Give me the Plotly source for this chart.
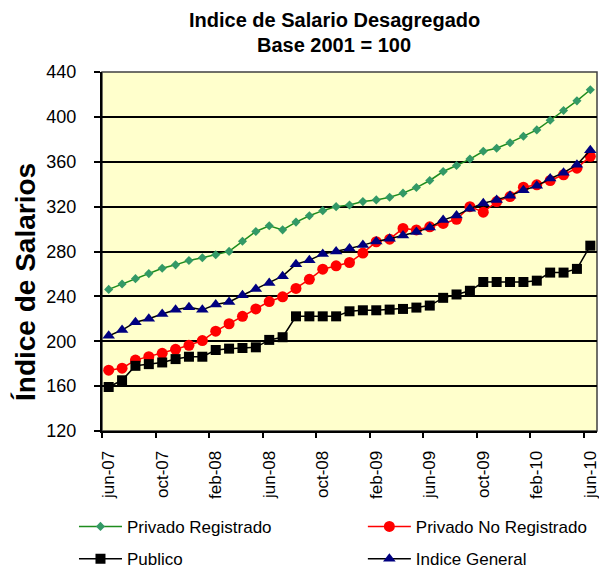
import plotly.graph_objects as go

months = ["jun-07","jul-07","ago-07","sep-07","oct-07","nov-07","dic-07","ene-08","feb-08","mar-08",
          "abr-08","may-08","jun-08","jul-08","ago-08","sep-08","oct-08","nov-08","dic-08","ene-09",
          "feb-09","mar-09","abr-09","may-09","jun-09","jul-09","ago-09","sep-09","oct-09","nov-09",
          "dic-09","ene-10","feb-10","mar-10","abr-10","may-10","jun-10"]
tick_labels = ["jun-07","oct-07","feb-08","jun-08","oct-08","feb-09","jun-09","oct-09","feb-10","jun-10"]

privado_registrado = [246.2,251,255.8,260.3,265.1,268.1,272,274.4,277.1,280.1,
                      289.1,297.8,302.9,299.3,306.2,311.9,316.4,320,321.5,324.5,
                      326,328.4,332,337,343.3,351.3,356.7,362.4,369.3,372,
                      377,382.7,388.4,397,405.7,414.3,424.2]
privado_no_registrado = [174.2,176,183.2,186.2,189.2,192.8,196.4,200.6,209,215.6,
                         222.2,228.8,235.4,239.6,247.1,255.2,264.2,267.2,270.2,278.6,
                         288.7,291,300.6,299.2,302,305,308.7,320,315,324.5,
                         329,337.3,339.4,343.3,348.4,354.3,364.8]
publico = [159.2,165.2,178.1,179.6,181.1,184.1,186.2,186.2,192.2,193.4,
           194,194.6,201.2,203.6,222.2,222.2,222.2,222.2,226.7,227.6,
           227.6,228.2,228.8,230,231.8,238.7,241.7,245,252.8,252.8,
           252.8,252.8,254,261.2,261.2,264.5,285.2]
indice_general = [204.8,210,217,220,224.3,228,230.3,228,232.7,235,
                  241,246.5,252,258,268.7,272.3,277.7,280,282.7,285.7,
                  289,291.3,294.3,297.3,301.5,308,312.2,318.2,323,326,
                  329.8,334.6,338.5,345,350.2,357.3,370.2]

xs = list(range(len(months)))
tickvals = [months.index(t) for t in tick_labels]

FONT = "Liberation Sans, Arial, sans-serif"
LEG_FONT = dict(size=17, family=FONT, color="black")
fig = go.Figure()

fig.add_trace(go.Scatter(x=xs, y=privado_registrado, name="Privado Registrado", mode="lines+markers",
                         line=dict(color="#1E8C1E", width=1.5),
                         marker=dict(symbol="diamond", size=7, color="#339966"),
                         legend="legend"))
fig.add_trace(go.Scatter(x=xs, y=privado_no_registrado, name="Privado No Registrado", mode="lines+markers",
                         line=dict(color="#FF0000", width=1.5),
                         marker=dict(symbol="circle", size=11, color="#FF0000"),
                         legend="legend2"))
fig.add_trace(go.Scatter(x=xs, y=publico, name="Publico", mode="lines+markers",
                         line=dict(color="#000000", width=1.5),
                         marker=dict(symbol="square", size=10, color="#000000"),
                         legend="legend3"))
fig.add_trace(go.Scatter(x=xs, y=indice_general, name="Indice General", mode="lines+markers",
                         line=dict(color="#000000", width=1.5),
                         marker=dict(symbol="triangle-up", size=11, color="#000080"),
                         legend="legend4"))
# invisible trace for the overlay axis that draws ticks at category boundaries
fig.add_trace(go.Scatter(x=[-0.5, 36.5], y=[None, None], xaxis="x2", showlegend=False, hoverinfo="skip"))

def leg(xp, yp):
    return dict(orientation="h", x=xp, xanchor="left", y=yp, yanchor="middle",
                font=LEG_FONT, bgcolor="rgba(0,0,0,0)", borderwidth=0, itemwidth=43)

fig.update_layout(
    width=599, height=569,
    margin=dict(l=102, r=2, t=72, b=138, autoexpand=False),
    paper_bgcolor="white", plot_bgcolor="#FFFFCC",
    font=dict(family=FONT, color="black", size=14),
    xaxis=dict(range=[-0.5, 36.5], tickmode="array", tickvals=tickvals, ticktext=tick_labels,
               tickangle=-90, ticks="outside", ticklen=11, tickcolor="rgba(0,0,0,0)",
               showgrid=False, zeroline=False, automargin=False, ticklabeloverflow="allow",
               showline=True, linecolor="black", linewidth=2, mirror=False,
               tickfont=dict(size=17, family=FONT)),
    xaxis2=dict(overlaying="x", range=[-0.5, 36.5], tickmode="array",
                tickvals=[v - 0.5 for v in tickvals], showticklabels=False,
                ticks="outside", ticklen=6, tickwidth=1.5, tickcolor="black",
                showgrid=False, zeroline=False, side="bottom", anchor="y", automargin=False),
    yaxis=dict(range=[120, 440], dtick=40, tick0=120, ticks="outside", ticklen=6, tickwidth=1.5,
               tickcolor="black", showgrid=True, gridcolor="black", gridwidth=1.5,
               zeroline=False, showline=True, linecolor="black", linewidth=2, automargin=False,
               tickfont=dict(size=18, family=FONT), ticklabelstandoff=14),
    legend=leg(-0.0566, -0.267),
    legend2=leg(0.527, -0.267),
    legend3=leg(-0.0566, -0.357),
    legend4=leg(0.527, -0.357),
    annotations=[
        dict(text="<b>Indice de Salario Desagregado</b>", xref="paper", yref="paper",
             x=0.469, y=1.145, xanchor="center", yanchor="middle", showarrow=False,
             font=dict(size=20, family=FONT)),
        dict(text="<b>Base 2001 = 100</b>", xref="paper", yref="paper",
             x=0.469, y=1.075, xanchor="center", yanchor="middle", showarrow=False,
             font=dict(size=20, family=FONT)),
        dict(text="<b>Índice de Salarios</b>", xref="paper", yref="paper",
             x=-0.1556, y=0.415, xanchor="center", yanchor="middle", showarrow=False,
             textangle=-90, font=dict(size=28, family=FONT)),
    ],
)
fig.add_shape(type="rect", xref="paper", yref="paper", x0=0, y0=0, x1=1, y1=1,
              line=dict(color="#404040", width=1.5), layer="below")

fig.write_html("out.html", config={"displayModeBar": False},
               post_script="document.body.style.margin='0';document.body.style.overflow='hidden';")
